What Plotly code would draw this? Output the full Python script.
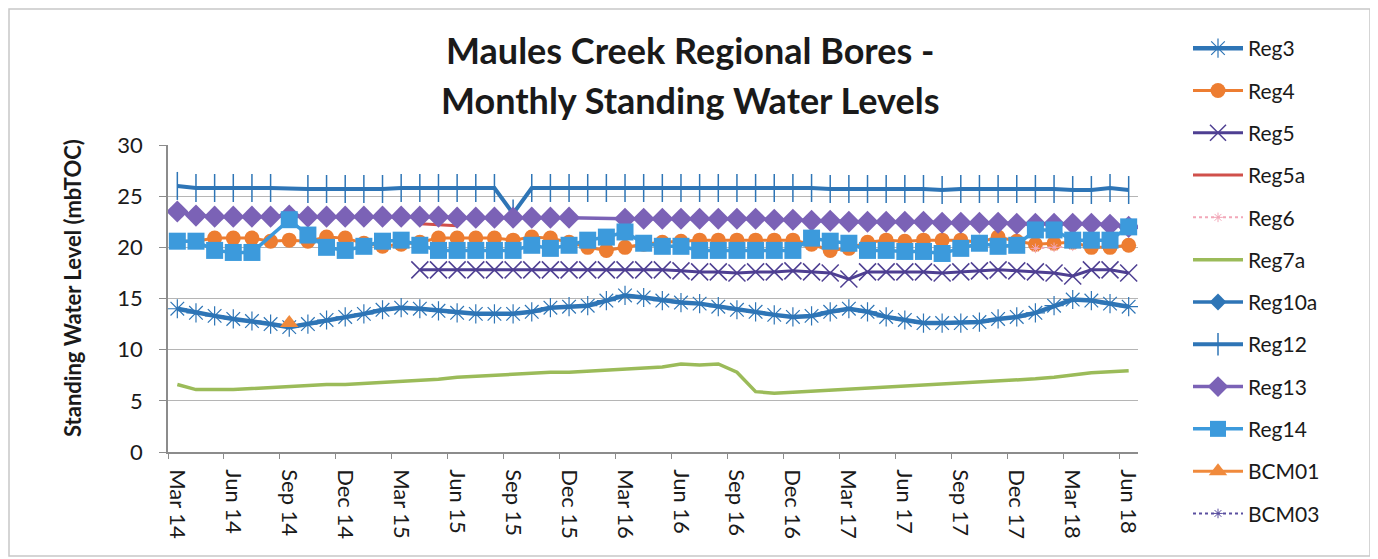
import plotly.graph_objects as go

N = None

months = ["Mar 14", "Apr 14", "May 14", "Jun 14", "Jul 14", "Aug 14", "Sep 14", "Oct 14", "Nov 14", "Dec 14", "Jan 15", "Feb 15",
          "Mar 15", "Apr 15", "May 15", "Jun 15", "Jul 15", "Aug 15", "Sep 15", "Oct 15", "Nov 15", "Dec 15", "Jan 16", "Feb 16",
          "Mar 16", "Apr 16", "May 16", "Jun 16", "Jul 16", "Aug 16", "Sep 16", "Oct 16", "Nov 16", "Dec 16", "Jan 17", "Feb 17",
          "Mar 17", "Apr 17", "May 17", "Jun 17", "Jul 17", "Aug 17", "Sep 17", "Oct 17", "Nov 17", "Dec 17", "Jan 18", "Feb 18",
          "Mar 18", "Apr 18", "May 18", "Jun 18"]

tick_labels = ["Mar 14", "Jun 14", "Sep 14", "Dec 14", "Mar 15", "Jun 15", "Sep 15", "Dec 15", "Mar 16",
               "Jun 16", "Sep 16", "Dec 16", "Mar 17", "Jun 17", "Sep 17", "Dec 17", "Mar 18", "Jun 18"]

reg3 = [14.0, 13.6, 13.3, 13.0, 12.8, 12.5, 12.2, 12.5, 12.9, 13.2, 13.5, 13.9,
        14.1, 14.0, 13.8, 13.6, 13.5, 13.5, 13.5, 13.7, 14.1, 14.2, 14.3, 14.8,
        15.3, 15.1, 14.8, 14.6, 14.5, 14.2, 13.9, 13.7, 13.4, 13.2, 13.3, 13.7,
        14.0, 13.7, 13.2, 12.9, 12.6, 12.6, 12.6, 12.7, 13.0, 13.2, 13.6, 14.3,
        14.9, 14.8, 14.5, 14.2]

reg4 = [20.6, 20.6, 20.9, 20.9, 20.9, 20.6, 20.7, 20.6, 21.0, 20.9, 20.4, 20.1,
        20.3, 20.5, 20.9, 20.9, 20.9, 20.9, 20.7, 21.0, 20.9, 20.5, 20.0, 19.7,
        20.0, 20.3, 20.5, 20.6, 20.7, 20.7, 20.7, 20.7, 20.7, 20.7, 20.3, 19.7,
        19.9, 20.5, 20.7, 20.6, 20.7, 20.7, 20.7, 20.5, 21.0, 20.6, 20.3, 20.4,
        20.5, 20.0, 20.0, 20.2]

reg5 = [N, N, N, N, N, N, N, N, N, N, N, N,
        N, 17.8, 17.8, 17.8, 17.8, 17.8, 17.8, 17.8, 17.8, 17.8, 17.8, 17.8,
        17.8, 17.8, 17.8, 17.7, 17.6, 17.6, 17.5, 17.6, 17.6, 17.7, 17.6, 17.5,
        16.9, 17.6, 17.6, 17.6, 17.6, 17.5, 17.6, 17.7, 17.8, 17.7, 17.6, 17.5,
        17.2, 17.8, 17.8, 17.5]

reg5a = [N, N, N, N, N, N, N, N, N, N, N, N,
         N, 22.3, 22.2, 22.1, N, N, N, N, N, N, N, N,
         N, N, N, N, N, N, N, N, N, N, N, N,
         N, N, N, N, N, N, N, N, N, N, N, N,
         N, N, N, N]

reg6 = [N, N, N, N, N, N, N, N, N, N, N, N,
        N, N, N, N, N, N, N, N, N, N, N, N,
        N, N, N, N, N, N, N, N, N, N, N, N,
        N, N, N, N, N, N, N, N, N, N, 19.9, 20.0,
        20.1, N, N, N]

reg7a = [6.6, 6.1, 6.1, 6.1, 6.2, 6.3, 6.4, 6.5, 6.6, 6.6, 6.7, 6.8,
         6.9, 7.0, 7.1, 7.3, 7.4, 7.5, 7.6, 7.7, 7.8, 7.8, 7.9, 8.0,
         8.1, 8.2, 8.3, 8.6, 8.5, 8.6, 7.8, 5.9, 5.75, 5.85, 5.95, 6.05,
         6.15, 6.25, 6.35, 6.45, 6.5, 6.6, 6.7, 6.8, 6.9, 7.0, 7.15, 7.3,
         7.5, 7.75, 7.85, 7.95]

# no readings visible for Reg10a in the chart (legend entry only)
reg10a = [N, N, N, N, N, N, N, N, N, N, N, N,
          N, N, N, N, N, N, N, N, N, N, N, N,
          N, N, N, N, N, N, N, N, N, N, N, N,
          N, N, N, N, N, N, N, N, N, N, N, N,
          N, N, N, N]

reg12 = [26.0, 25.8, 25.8, 25.8, 25.8, 25.8, N, 25.7, 25.7, 25.7, 25.7, 25.7,
         25.8, 25.8, 25.8, 25.8, 25.8, 25.8, 23.3, 25.8, 25.8, 25.8, 25.8, 25.8,
         25.8, 25.8, 25.8, 25.8, 25.8, 25.8, 25.8, 25.8, 25.8, 25.8, 25.8, 25.7,
         25.7, 25.7, 25.7, 25.7, 25.7, 25.6, 25.7, 25.7, 25.7, 25.7, 25.7, 25.7,
         25.6, 25.6, 25.8, 25.6]

reg13 = [23.5, 23.1, 23.0, 23.0, 23.0, 23.0, 23.1, 23.0, 23.0, 23.0, 23.0, 23.0,
         23.0, 23.0, 23.0, 22.9, 22.9, 22.9, 22.9, 22.9, 22.9, 22.9, N, N,
         22.8, 22.8, 22.8, 22.8, 22.8, 22.8, 22.8, 22.8, 22.7, 22.7, 22.6, 22.6,
         22.5, 22.5, 22.5, 22.5, 22.5, 22.4, 22.4, 22.4, 22.4, 22.3, 22.3, 22.3,
         22.3, 22.3, 22.2, 22.0]

reg14 = [20.6, 20.6, 19.7, 19.5, 19.5, N, 22.7, 21.2, 20.0, 19.7, 20.1, 20.6,
         20.7, 20.2, 19.7, 19.7, 19.7, 19.7, 19.7, 20.2, 19.9, 20.2, 20.7, 21.0,
         21.5, 20.4, 20.1, 20.1, 19.7, 19.7, 19.7, 19.7, 19.7, 19.7, 20.9, 20.6,
         20.4, 19.7, 19.7, 19.6, 19.6, 19.4, 19.9, 20.4, 20.1, 20.2, 21.7, 21.7,
         20.7, 20.7, 20.7, 22.0]

bcm01 = [N, N, N, N, N, N, 12.6, N, N, N, N, N,
         N, N, N, N, N, N, N, N, N, N, N, N,
         N, N, N, N, N, N, N, N, N, N, N, N,
         N, N, N, N, N, N, N, N, N, N, N, N,
         N, N, N, N]

# no readings visible for BCM03 in the chart (legend entry only)
bcm03 = [N, N, N, N, N, N, N, N, N, N, N, N,
         N, N, N, N, N, N, N, N, N, N, N, N,
         N, N, N, N, N, N, N, N, N, N, N, N,
         N, N, N, N, N, N, N, N, N, N, N, N,
         N, N, N, N]

FONT = "Lato"

# month slots: points sit in the middle of each month slot
xpos = [i + 0.5 for i in range(len(months))]
tick_pos = [months.index(t) for t in tick_labels]

series = [
    ("Reg3", reg3, dict(color="#2E75B6", width=4.5), dict(symbol="asterisk-open", size=16, line=dict(color="#5B9BD5", width=1.2))),
    ("Reg4", reg4, dict(color="#ED7D31", width=3), dict(symbol="circle", size=15, color="#ED7D31")),
    ("Reg5", reg5, dict(color="#4E3F92", width=3), dict(symbol="x-thin-open", size=17, line=dict(color="#8A80C0", width=1.5))),
    ("Reg5a", reg5a, dict(color="#D0504B", width=3), None),
    ("Reg6", reg6, dict(color="#F2A7B8", width=2, dash="dot"), dict(symbol="asterisk-open", size=8, line=dict(color="#E07890", width=1))),
    ("Reg7a", reg7a, dict(color="#9BBB59", width=3.5), None),
    ("Reg10a", reg10a, dict(color="#2E75B6", width=3.5), dict(symbol="diamond", size=13, color="#2E75B6")),
    ("Reg12", reg12, dict(color="#2E75B6", width=4), dict(symbol="line-ns-open", size=20, line=dict(color="#1F57A8", width=1.5))),
    ("Reg13", reg13, dict(color="#7B62B6", width=3.5), dict(symbol="diamond", size=17, color="#7B62B6")),
    ("Reg14", reg14, dict(color="#3C9ADC", width=3.5), dict(symbol="square", size=17, color="#3C9ADC")),
    ("BCM01", bcm01, dict(color="#F08A3C", width=3), dict(symbol="triangle-up", size=16, color="#F08A3C")),
    ("BCM03", bcm03, dict(color="#5A4FA0", width=2, dash="dot"), dict(symbol="asterisk-open", size=8, line=dict(color="#8A80C0", width=1))),
]

fig = go.Figure()
for name, vals, line, marker in series:
    kw = dict(
        x=xpos[:len(vals)], y=vals, name=name, line=line,
        mode="lines+markers" if marker else "lines",
        connectgaps=True, legendgroup=name, showlegend=True,
    )
    if marker:
        kw["marker"] = marker
    fig.add_trace(go.Scatter(**kw))

# the page body adds an 8px offset; the figure is sized so that the
# picture lines up with the 1378x559 window
OFF = 8
W, H = 1378 - OFF, 559 - OFF
L, R, T, B = 168 - OFF, 240, 145 - OFF, 107
pw, ph = W - L - R, H - T - B


def px_x(p):
    return (p - OFF - L) / pw


def px_y(p):
    return (H - B - (p - OFF)) / ph


fig.update_layout(
    width=W, height=H,
    margin=dict(l=L, r=R, t=T, b=B, autoexpand=False),
    paper_bgcolor="white", plot_bgcolor="white",
    font=dict(family=FONT, color="#1a1a1a"),
    showlegend=True,
    legend=dict(
        x=px_x(1188), y=px_y(28), xanchor="left", yanchor="top",
        font=dict(family=FONT, size=21, color="#1a1a1a"),
        tracegroupgap=12, itemwidth=50, bgcolor="rgba(0,0,0,0)",
        maxheight=560,
    ),
    xaxis=dict(
        range=[0, len(months)], tickmode="array", tickvals=tick_pos, ticktext=tick_labels,
        tickangle=90, ticks="outside", ticklen=5, tickcolor="#8c8c8c",
        showline=True, linecolor="#8c8c8c", linewidth=1.5, showgrid=False, zeroline=False,
        tickfont=dict(family=FONT, size=22, color="#1a1a1a"), ticklabelstandoff=6, ticklabelshift=9,
    ),
    yaxis=dict(
        range=[0, 30], dtick=5, tick0=0, ticks="outside", ticklen=7, tickcolor="#8c8c8c",
        showline=True, linecolor="#8c8c8c", linewidth=1.5,
        showgrid=True, gridcolor="#b5b5b5", gridwidth=1.2, zeroline=False,
        tickfont=dict(family=FONT, size=22, color="#1a1a1a"), ticklabelstandoff=12,
    ),
    annotations=[
        dict(text="<b>Maules Creek Regional Bores -</b>", x=px_x(690), y=px_y(50), xref="paper", yref="paper",
             showarrow=False, xanchor="center", yanchor="middle", font=dict(family=FONT, size=36, color="#1a1a1a")),
        dict(text="<b>Monthly Standing Water Levels</b>", x=px_x(690), y=px_y(100), xref="paper", yref="paper",
             showarrow=False, xanchor="center", yanchor="middle", font=dict(family=FONT, size=36, color="#1a1a1a")),
        dict(text="<b>Standing Water Level (mbTOC)</b>", x=px_x(72), y=px_y(288), xref="paper", yref="paper",
             showarrow=False, xanchor="center", yanchor="middle", textangle=-90,
             font=dict(family=FONT, size=22, color="#1a1a1a")),
    ],
    shapes=[
        dict(type="rect", xref="paper", yref="paper", x0=px_x(9), x1=px_x(1370), y0=px_y(556), y1=px_y(9),
             line=dict(color="#c8c8c8", width=1.5), fillcolor="rgba(0,0,0,0)", layer="below"),
    ],
)

fig.write_html("out.html")
